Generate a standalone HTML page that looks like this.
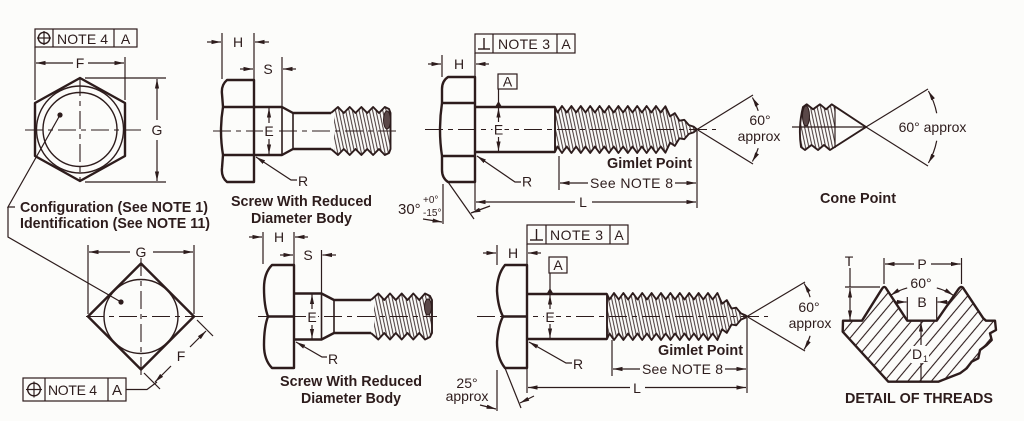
<!DOCTYPE html>
<html><head><meta charset="utf-8"><style>
html,body{margin:0;padding:0;background:#fcfcfa;}
svg{display:block}
text{font-family:"Liberation Sans",Arial,sans-serif;fill:#2d1c1c;font-size:14px}
.b{font-weight:bold;font-size:15px}
.m{text-anchor:middle}
.th{fill:none;stroke:#2d1c1c;stroke-width:1.2}
.tk{fill:none;stroke:#2d1c1c;stroke-width:2.4;stroke-linejoin:round}
.tr{fill:none;stroke:#2d1c1c;stroke-width:1.9;stroke-linejoin:round}
.md{fill:none;stroke:#2d1c1c;stroke-width:1.6}
.cl{fill:none;stroke:#2d1c1c;stroke-width:1.1;stroke-dasharray:18 5 5 5}
.ar{fill:none;stroke:#2d1c1c;stroke-width:1.2;marker-end:url(#a)}
.hs{fill:url(#hs);stroke:none}
.hd{fill:url(#hd);stroke:none}
.bg{fill:#fcfcfa;stroke:none}
</style></head><body>
<svg width="1024" height="421" viewBox="0 0 1024 421" xmlns="http://www.w3.org/2000/svg" fill="#2d1c1c">
<defs>
<marker id="a" viewBox="0 0 10 4.4" refX="10" refY="2.2" markerWidth="9.5" markerHeight="4.6" markerUnits="userSpaceOnUse" orient="auto"><path d="M0,0L10,2.2L0,4.4z" fill="#2d1c1c"/></marker>
<pattern id="hs" width="3.3" height="20" patternUnits="userSpaceOnUse" patternTransform="rotate(-12)"><line x1="1.6" y1="0" x2="1.6" y2="20" stroke="#2d1c1c" stroke-width="0.9"/></pattern>
<pattern id="hd" width="9" height="20" patternUnits="userSpaceOnUse" patternTransform="rotate(40)"><line x1="4.5" y1="0" x2="4.5" y2="20" stroke="#2d1c1c" stroke-width="1.1"/></pattern>
</defs>

<!-- TOP-LEFT HEX -->
<rect x="35" y="29" width="102" height="18" class="th"/>
<line x1="53" y1="29" x2="53" y2="47" class="th"/>
<line x1="114" y1="29" x2="114" y2="47" class="th"/>
<circle cx="44" cy="38" r="5.7" class="th" style="stroke-width:1.4"/>
<line x1="44" y1="31" x2="44" y2="45" class="th"/>
<line x1="37" y1="38" x2="51" y2="38" class="th"/>
<text x="57" y="44" textLength="51">NOTE 4</text>
<text x="125.5" y="44" class="m">A</text>
<line x1="35" y1="47" x2="35" y2="100" class="th"/>
<line x1="125" y1="57" x2="125" y2="100" class="th"/>
<line x1="73" y1="63" x2="36" y2="63" class="ar"/>
<line x1="88" y1="63" x2="124" y2="63" class="ar"/>
<text x="80" y="68" class="m">F</text>
<polygon points="80,78 125,103 125,156 80,181 35,156 35,103" class="tk"/>
<circle cx="80" cy="129.5" r="43.5" class="th" style="stroke-width:1.4"/>
<circle cx="80" cy="129.5" r="37" class="th" style="stroke-width:1.4"/>
<line x1="25" y1="130" x2="141" y2="130" class="cl"/>
<line x1="80" y1="78" x2="80" y2="182" class="cl"/>
<circle cx="60" cy="115" r="2.6"/>
<line x1="85" y1="78" x2="166" y2="78" class="th"/>
<line x1="85" y1="182" x2="166" y2="182" class="th"/>
<line x1="157" y1="120" x2="157" y2="79" class="ar"/>
<line x1="157" y1="140" x2="157" y2="181" class="ar"/>
<text x="157" y="135" class="m">G</text>
<polyline points="60,115 8,207 15,207" class="th"/>
<polyline points="8,207 8,237 121,302" class="th"/>
<text x="20" y="212" class="b" textLength="188" lengthAdjust="spacingAndGlyphs">Configuration (See NOTE 1)</text>
<text x="20" y="228" class="b" textLength="190" lengthAdjust="spacingAndGlyphs">Identification (See NOTE 11)</text>

<!-- TOP REDUCED SCREW -->
<line x1="222" y1="33" x2="222" y2="79" class="th"/>
<line x1="254" y1="33" x2="254" y2="80" class="th"/>
<line x1="207" y1="42" x2="221" y2="42" class="ar"/>
<line x1="269" y1="42" x2="255" y2="42" class="ar"/>
<text x="238" y="47" class="m">H</text>
<line x1="240" y1="69" x2="253" y2="69" class="ar"/>
<line x1="296" y1="69" x2="283" y2="69" class="ar"/>
<line x1="282" y1="57" x2="282" y2="107" class="th"/>
<text x="268" y="74" class="m">S</text>
<path d="M227,80 L254,80 L254,182 L227,182 Q221,177 222,168 L223,155 Q219,131 223,107 L222,94 Q221,85 227,80 Z" class="tk"/>
<line x1="223" y1="107" x2="254" y2="107" class="tk"/>
<line x1="223" y1="155" x2="254" y2="155" class="tk"/>
<polyline points="254,107 282,107 293,113 331,113" class="tk"/>
<polyline points="254,155 282,155 293,149 331,149" class="tk"/>
<line x1="282" y1="107" x2="282" y2="155" class="md"/>
<line x1="293" y1="113" x2="293" y2="149" class="md"/>
<path class="hs" d="M334,112 L338,107 343.8,113 349.7,107 355.5,113 361.4,107 367.2,113 373.1,107 379,113 384.8,107 389,109 390.5,113 L390.5,149 389,153 384.8,155 379,149 373.1,155 367.2,149 361.4,155 355.5,149 349.7,155 343.8,149 338,155 334,150 Z"/>
<path d="M331,113 L338,107 343.8,113 349.7,107 355.5,113 361.4,107 367.2,113 373.1,107 379,113 384.8,107 389,109 390.5,113 L390.5,149 389,153 384.8,155 379,149 373.1,155 367.2,149 361.4,155 355.5,149 349.7,155 343.8,149 338,155 331,149" class="tr"/>
<ellipse cx="387" cy="120" rx="3.5" ry="9" fill="#5a4848" stroke="#2d1c1c"/>
<line x1="213" y1="131" x2="396" y2="131" class="cl"/>
<rect x="263" y="125" width="12" height="13" class="bg"/>
<line x1="269" y1="123" x2="269" y2="108" class="ar"/>
<line x1="269" y1="139" x2="269" y2="154" class="ar"/>
<text x="269" y="136" class="m">E</text>
<polyline points="297,180 291,180 256,157" class="ar"/>
<text x="298" y="186">R</text>
<text x="231" y="206" class="b" textLength="141" lengthAdjust="spacingAndGlyphs">Screw With Reduced</text>
<text x="251" y="223" class="b" textLength="101" lengthAdjust="spacingAndGlyphs">Diameter Body</text>

<!-- TOP GIMLET -->
<rect x="475" y="34" width="100" height="19" class="th"/>
<line x1="493" y1="34" x2="493" y2="53" class="th"/>
<line x1="557" y1="34" x2="557" y2="53" class="th"/>
<line x1="484" y1="38" x2="484" y2="49" class="th" style="stroke-width:1.4"/>
<line x1="478" y1="49" x2="490" y2="49" class="th" style="stroke-width:1.4"/>
<text x="498" y="49" textLength="52">NOTE 3</text>
<text x="566" y="49" class="m">A</text>
<line x1="475" y1="53" x2="475" y2="77" class="th"/>
<line x1="442" y1="55" x2="442" y2="77" class="th"/>
<line x1="428" y1="64" x2="441" y2="64" class="ar"/>
<line x1="489" y1="64" x2="476" y2="64" class="ar"/>
<text x="459" y="69" class="m">H</text>
<path d="M448,77 L475,77 L475,182 L448,182 Q442,178 442,170 L442,156 Q438,130 442,103 L442,89 Q442,81 448,77 Z" class="tk"/>
<line x1="442" y1="103" x2="475" y2="103" class="tk"/>
<line x1="442" y1="156" x2="475" y2="156" class="tk"/>
<line x1="475" y1="107" x2="555" y2="107" class="tk"/>
<line x1="475" y1="152" x2="555" y2="152" class="tk"/>
<path class="hs" d="M555,107 L557.5,112.5 562,106 566.7,112.5 571.4,106 576.1,112.5 580.8,106 585.5,112.5 590.2,106 594.9,112.5 599.6,106 604.3,112.5 609,106 613.7,112.5 618.4,106 623.1,112.5 627.8,106 632.5,112.5 637.2,106 641.9,112.5 646.6,106 651.3,112.5 656,106 660.7,112.5 665.4,106.3 670.1,116.3 674.8,113.1 679.5,120.7 684.2,119.8 688.9,125.1 693.6,126.6 697,129.5 693.6,132.4 688.9,133.9 684.2,139.2 679.5,138.3 674.8,145.9 670.1,142.7 665.4,152.7 660.7,146.5 656,153 651.3,146.5 646.6,153 641.9,146.5 637.2,153 632.5,146.5 627.8,153 623.1,146.5 618.4,153 613.7,146.5 609,153 604.3,146.5 599.6,153 594.9,146.5 590.2,153 585.5,146.5 580.8,153 576.1,146.5 571.4,153 566.7,146.5 562,153 557.5,146.5 555,152 Z"/>
<path class="tr" d="M555,107 L557.5,112.5 562,106 566.7,112.5 571.4,106 576.1,112.5 580.8,106 585.5,112.5 590.2,106 594.9,112.5 599.6,106 604.3,112.5 609,106 613.7,112.5 618.4,106 623.1,112.5 627.8,106 632.5,112.5 637.2,106 641.9,112.5 646.6,106 651.3,112.5 656,106 660.7,112.5 665.4,106.3 670.1,116.3 674.8,113.1 679.5,120.7 684.2,119.8 688.9,125.1 693.6,126.6 697,129.5 693.6,132.4 688.9,133.9 684.2,139.2 679.5,138.3 674.8,145.9 670.1,142.7 665.4,152.7 660.7,146.5 656,153 651.3,146.5 646.6,153 641.9,146.5 637.2,153 632.5,146.5 627.8,153 623.1,146.5 618.4,153 613.7,146.5 609,153 604.3,146.5 599.6,153 594.9,146.5 590.2,153 585.5,146.5 580.8,153 576.1,146.5 571.4,153 566.7,146.5 562,153 557.5,146.5 555,152 Z"/>
<rect x="498" y="74" width="19" height="15" class="th"/>
<text x="507.5" y="86.5" class="m">A</text>
<line x1="498.5" y1="89" x2="498.5" y2="103" class="th"/>
<polygon points="495,107 502,107 498.5,101"/>
<line x1="425" y1="129.5" x2="716" y2="129.5" class="cl"/>
<rect x="492.5" y="123.5" width="12" height="13" class="bg"/>
<line x1="498.5" y1="122" x2="498.5" y2="108" class="ar"/>
<line x1="498.5" y1="137" x2="498.5" y2="151" class="ar"/>
<text x="498.5" y="134.5" class="m">E</text>
<polyline points="521,182 515,182 477,156" class="ar"/>
<text x="522" y="186.5">R</text>
<text x="607" y="168" class="b" textLength="85" lengthAdjust="spacingAndGlyphs">Gimlet Point</text>
<line x1="588" y1="183" x2="560" y2="183" class="ar"/>
<line x1="675" y1="183" x2="696" y2="183" class="ar"/>
<text x="590" y="188" textLength="83">See NOTE 8</text>
<line x1="559" y1="156" x2="559" y2="190" class="th"/>
<line x1="697" y1="131" x2="697" y2="208" class="th"/>
<line x1="575" y1="202" x2="476" y2="202" class="ar"/>
<line x1="592" y1="202" x2="696" y2="202" class="ar"/>
<text x="583" y="207" class="m">L</text>
<line x1="475" y1="183" x2="475" y2="210" class="th"/>
<line x1="443" y1="184" x2="443" y2="224" class="th"/>
<line x1="448" y1="182" x2="474" y2="219" class="th"/>
<line x1="490" y1="206" x2="471" y2="213" class="ar"/>
<line x1="423" y1="219" x2="442" y2="222" class="ar"/>
<text x="398" y="214" style="font-size:15px">30°</text>
<text x="423" y="203" style="font-size:10px">+0°</text>
<text x="423" y="216" style="font-size:10px">-15°</text>
<line x1="697" y1="129.5" x2="753" y2="95" class="th"/>
<line x1="697" y1="129.5" x2="753" y2="164" class="th"/>
<path d="M758.2,110.8 A64,64 0 0 0 752.4,97.5" class="ar"/>
<path d="M758.2,148.2 A64,64 0 0 1 752.4,161.5" class="ar"/>
<text x="760" y="125" class="m">60°</text>
<text x="759" y="141" class="m">approx</text>

<!-- CONE POINT -->
<path class="hs" d="M803,107 L806.7,104.3 L813,109.3 L820,104.3 L826,109.3 L831.7,104.3 L835,106.5 L835,148 L830,150 L824,145 L818,150 L811.5,145 L805,150 L801,147 Q798,127 803,107 Z"/>
<path d="M803,107 L806.7,104.3 L813,109.3 L820,104.3 L826,109.3 L831.7,104.3 L866,127 L830,150 L824,145 L818,150 L811.5,145 L805,150 L801,147 Q798,127 803,107 Z" class="tr"/>
<line x1="835" y1="107" x2="835" y2="148" class="th"/>
<ellipse cx="806" cy="116" rx="3.5" ry="10" fill="#5a4848" stroke="#2d1c1c"/>
<line x1="792" y1="127" x2="866" y2="127" class="th"/>
<line x1="866" y1="127" x2="928" y2="89" class="th"/>
<line x1="866" y1="127" x2="928" y2="166" class="th"/>
<path d="M936.7,113.3 A72,72 0 0 0 928.4,91" class="ar"/>
<path d="M936.7,140.7 A72,72 0 0 1 928.4,163" class="ar"/>
<text x="932.5" y="132" class="m">60° approx</text>
<text x="858" y="203" class="b m" textLength="76" lengthAdjust="spacingAndGlyphs">Cone Point</text>

<!-- BOTTOM-LEFT SQUARE -->
<polygon points="141,263.5 194,316.5 141,369.5 88,316.5" class="tk"/>
<circle cx="141" cy="316.5" r="37" class="th" style="stroke-width:1.4"/>
<line x1="86" y1="316.5" x2="206" y2="316.5" class="cl"/>
<line x1="141" y1="258" x2="141" y2="376" class="cl"/>
<circle cx="121" cy="302" r="2.6"/>
<line x1="88" y1="245" x2="88" y2="314" class="th"/>
<line x1="194" y1="245" x2="194" y2="314" class="th"/>
<line x1="130" y1="252" x2="89" y2="252" class="ar"/>
<line x1="153" y1="252" x2="193" y2="252" class="ar"/>
<text x="141" y="257" class="m">G</text>
<line x1="197" y1="320" x2="213" y2="336" class="th"/>
<line x1="144" y1="373" x2="160" y2="389" class="th"/>
<line x1="190" y1="347" x2="206" y2="331" class="ar"/>
<line x1="171" y1="366" x2="155" y2="382" class="ar"/>
<text x="181" y="361" class="m">F</text>
<rect x="23" y="378" width="103" height="23" class="th"/>
<line x1="45" y1="378" x2="45" y2="401" class="th"/>
<line x1="108" y1="378" x2="108" y2="401" class="th"/>
<circle cx="34" cy="389.5" r="6.3" class="th" style="stroke-width:1.4"/>
<line x1="34" y1="381.5" x2="34" y2="397.5" class="th"/>
<line x1="26" y1="389.5" x2="42" y2="389.5" class="th"/>
<text x="48" y="395" textLength="49">NOTE 4</text>
<text x="117" y="395" class="m" style="font-size:15px">A</text>
<polyline points="126,389.5 147,389.5 157,382" class="th"/>

<!-- BOTTOM REDUCED SCREW -->
<line x1="263" y1="232" x2="263" y2="264" class="th"/>
<line x1="294" y1="232" x2="294" y2="265" class="th"/>
<line x1="249" y1="237" x2="262" y2="237" class="ar"/>
<line x1="308" y1="237" x2="295" y2="237" class="ar"/>
<text x="279" y="242" class="m">H</text>
<line x1="280" y1="255" x2="293" y2="255" class="ar"/>
<line x1="336" y1="255" x2="322.5" y2="255" class="ar"/>
<line x1="321.5" y1="250" x2="321.5" y2="293" class="th"/>
<text x="308" y="260" class="m">S</text>
<path d="M272,265 L294,265 L294,368 L272,368 Q264,360 264,345 Q264,327 268,316.5 Q264,306 264,288 Q264,273 272,265 Z" class="tk"/>
<line x1="268" y1="316.5" x2="294" y2="316.5" class="tk"/>
<polyline points="294,293.5 321.5,293.5 334,300 371,300" class="tk"/>
<polyline points="294,339.5 321.5,339.5 334,333 371,333" class="tk"/>
<line x1="321.5" y1="293.5" x2="321.5" y2="339.5" class="md"/>
<line x1="334" y1="300" x2="334" y2="333" class="md"/>
<path class="hs" d="M374,297 L378.3,293.5 384.2,300 390,293.5 395.8,300 401.7,293.5 407.5,300 413.3,293.5 419.2,300 425,293.5 430,296 432,300 L432,333 430,337 425,339.5 419.2,333 413.3,339.5 407.5,333 401.7,339.5 395.8,333 390,339.5 384.2,333 378.3,339.5 374,336 Z"/>
<path d="M371,300 L378.3,293.5 384.2,300 390,293.5 395.8,300 401.7,293.5 407.5,300 413.3,293.5 419.2,300 425,293.5 430,296 432,300 L432,333 430,337 425,339.5 419.2,333 413.3,339.5 407.5,333 401.7,339.5 395.8,333 390,339.5 384.2,333 378.3,339.5 371,333" class="tr"/>
<ellipse cx="428" cy="307" rx="3.5" ry="8" fill="#5a4848" stroke="#2d1c1c"/>
<line x1="258" y1="316.5" x2="437" y2="316.5" class="cl"/>
<rect x="306" y="311" width="12" height="13" class="bg"/>
<line x1="312" y1="309" x2="312" y2="294.5" class="ar"/>
<line x1="312" y1="325" x2="312" y2="338.5" class="ar"/>
<text x="312" y="322" class="m">E</text>
<polyline points="327,357 322,357 296,342" class="ar"/>
<text x="328" y="364">R</text>
<text x="280" y="386" class="b" textLength="142" lengthAdjust="spacingAndGlyphs">Screw With Reduced</text>
<text x="301" y="403" class="b" textLength="100" lengthAdjust="spacingAndGlyphs">Diameter Body</text>

<!-- BOTTOM GIMLET -->
<rect x="527" y="225" width="101" height="19" class="th"/>
<line x1="546" y1="225" x2="546" y2="244" class="th"/>
<line x1="610" y1="225" x2="610" y2="244" class="th"/>
<line x1="536.5" y1="229" x2="536.5" y2="240" class="th" style="stroke-width:1.4"/>
<line x1="530" y1="240" x2="543" y2="240" class="th" style="stroke-width:1.4"/>
<text x="550" y="240" textLength="53">NOTE 3</text>
<text x="619" y="240" class="m">A</text>
<line x1="527" y1="244" x2="527" y2="265" class="th"/>
<line x1="497" y1="245" x2="497" y2="265" class="th"/>
<line x1="483" y1="253" x2="496" y2="253" class="ar"/>
<line x1="541" y1="253" x2="528" y2="253" class="ar"/>
<text x="513" y="258" class="m">H</text>
<path d="M505,265 L527,265 L527,368 L505,368 Q497,358 497,342 Q498,326 503,316.5 Q498,307 497,291 Q497,275 505,265 Z" class="tk"/>
<line x1="503" y1="316.5" x2="527" y2="316.5" class="tk"/>
<line x1="527" y1="294" x2="607" y2="294" class="tk"/>
<line x1="527" y1="339" x2="607" y2="339" class="tk"/>
<path class="hs" d="M607,294 L609.5,299.5 614,293 618.7,299.5 623.4,293 628.1,299.5 632.8,293 637.5,299.5 642.2,293 646.9,299.5 651.6,293 656.3,299.5 661,293 665.7,299.5 670.4,293 675.1,299.5 679.8,293 684.5,299.5 689.2,293 693.9,299.5 698.6,293 703.3,299.5 708,293 712.7,299.5 717.4,293 722.1,303.7 726.8,300.1 731.5,308.5 736.2,307.7 740.9,313.4 745.6,315.4 747,316.5 745.6,317.6 740.9,319.6 736.2,325.3 731.5,324.5 726.8,332.9 722.1,329.3 717.4,340 712.7,333.5 708,340 703.3,333.5 698.6,340 693.9,333.5 689.2,340 684.5,333.5 679.8,340 675.1,333.5 670.4,340 665.7,333.5 661,340 656.3,333.5 651.6,340 646.9,333.5 642.2,340 637.5,333.5 632.8,340 628.1,333.5 623.4,340 618.7,333.5 614,340 609.5,333.5 607,339 Z"/>
<path class="tr" d="M607,294 L609.5,299.5 614,293 618.7,299.5 623.4,293 628.1,299.5 632.8,293 637.5,299.5 642.2,293 646.9,299.5 651.6,293 656.3,299.5 661,293 665.7,299.5 670.4,293 675.1,299.5 679.8,293 684.5,299.5 689.2,293 693.9,299.5 698.6,293 703.3,299.5 708,293 712.7,299.5 717.4,293 722.1,303.7 726.8,300.1 731.5,308.5 736.2,307.7 740.9,313.4 745.6,315.4 747,316.5 745.6,317.6 740.9,319.6 736.2,325.3 731.5,324.5 726.8,332.9 722.1,329.3 717.4,340 712.7,333.5 708,340 703.3,333.5 698.6,340 693.9,333.5 689.2,340 684.5,333.5 679.8,340 675.1,333.5 670.4,340 665.7,333.5 661,340 656.3,333.5 651.6,340 646.9,333.5 642.2,340 637.5,333.5 632.8,340 628.1,333.5 623.4,340 618.7,333.5 614,340 609.5,333.5 607,339 Z"/>
<rect x="549" y="257" width="18" height="16" class="th"/>
<text x="558" y="270" class="m">A</text>
<line x1="550" y1="273" x2="550" y2="289" class="th"/>
<polygon points="546.5,294 553.5,294 550,288"/>
<line x1="477" y1="316.5" x2="768" y2="316.5" class="cl"/>
<rect x="544" y="311" width="12" height="13" class="bg"/>
<line x1="550" y1="309" x2="550" y2="295" class="ar"/>
<line x1="550" y1="324" x2="550" y2="338" class="ar"/>
<text x="550" y="322" class="m">E</text>
<polyline points="572,363 566,363 529,342" class="ar"/>
<text x="573" y="369">R</text>
<text x="658" y="355" class="b" textLength="85" lengthAdjust="spacingAndGlyphs">Gimlet Point</text>
<line x1="640" y1="369" x2="613" y2="369" class="ar"/>
<line x1="725" y1="369" x2="746" y2="369" class="ar"/>
<text x="642" y="374" textLength="81">See NOTE 8</text>
<line x1="612" y1="340" x2="612" y2="376" class="th"/>
<line x1="747" y1="318" x2="747" y2="393" class="th"/>
<line x1="630" y1="387.5" x2="528" y2="387.5" class="ar"/>
<line x1="645" y1="387.5" x2="746" y2="387.5" class="ar"/>
<text x="637" y="393" class="m">L</text>
<line x1="527" y1="369" x2="527" y2="393" class="th"/>
<line x1="497" y1="370" x2="497" y2="411" class="th"/>
<line x1="505" y1="368" x2="521" y2="408" class="th"/>
<line x1="534" y1="396" x2="520" y2="403" class="ar"/>
<line x1="480" y1="405" x2="496" y2="409" class="ar"/>
<text x="467" y="388" class="m">25°</text>
<text x="467" y="401" class="m">approx</text>
<line x1="747" y1="316.5" x2="805" y2="282" class="th"/>
<line x1="747" y1="316.5" x2="805" y2="351" class="th"/>
<path d="M810.1,297.2 A66,66 0 0 0 804.2,283.5" class="ar"/>
<path d="M810.1,335.8 A66,66 0 0 1 804.2,349.5" class="ar"/>
<text x="809" y="312" class="m">60°</text>
<text x="810" y="328" class="m">approx</text>

<!-- DETAIL OF THREADS -->
<path class="hd" d="M843,320.7 L862,320.7 L881.7,289.3 Q884.3,284.5 886.7,289.3 L907.3,320.7 L936.7,320.7 L958.3,289.3 Q961.7,284.5 964,289.3 L983.3,318.3 L986,320.7 L995,320.7 L996,330 L990,333.3 L991.7,340 L986.7,345 L980,350 L978.3,358.3 L971.7,361.7 L966.7,368.3 L960,373.3 L938.3,381.7 L888.3,381.7 L842.7,331.7 Z"/>
<path class="tk" d="M843,320.7 L862,320.7 L881.7,289.3 Q884.3,284.5 886.7,289.3 L907.3,320.7 L936.7,320.7 L958.3,289.3 Q961.7,284.5 964,289.3 L983.3,318.3 L986,320.7 L995,320.7 L996,330 L990,333.3 L991.7,340 L986.7,345 L980,350 L978.3,358.3 L971.7,361.7 L966.7,368.3 L960,373.3 L938.3,381.7 L888.3,381.7 L842.7,331.7 Z"/>
<rect x="911" y="346" width="18" height="17" class="bg"/>
<line x1="845" y1="287" x2="880" y2="287" class="th"/>
<line x1="850" y1="268" x2="850" y2="287" class="th"/>
<line x1="850" y1="304" x2="850" y2="288" class="ar"/>
<line x1="850" y1="304" x2="850" y2="320" class="ar"/>
<text x="849" y="266" class="m">T</text>
<line x1="884" y1="258" x2="884" y2="284" class="th"/>
<line x1="961.5" y1="258" x2="961.5" y2="284" class="th"/>
<line x1="914" y1="264" x2="885" y2="264" class="ar"/>
<line x1="931" y1="264" x2="960.5" y2="264" class="ar"/>
<text x="922" y="269" class="m">P</text>
<path d="M907.2,287.9 A57,57 0 0 0 890.7,295.3" class="ar"/>
<path d="M936.8,287.9 A57,57 0 0 1 953.3,295.3" class="ar"/>
<text x="921" y="288" class="m">60°</text>
<line x1="907.3" y1="297" x2="907.3" y2="320" class="th"/>
<line x1="936.7" y1="297" x2="936.7" y2="320" class="th"/>
<line x1="894" y1="302" x2="906.5" y2="302" class="ar"/>
<line x1="950" y1="302" x2="937.5" y2="302" class="ar"/>
<text x="922" y="307" class="m">B</text>
<line x1="921" y1="345" x2="921" y2="322" class="ar"/>
<line x1="921" y1="363" x2="921" y2="381" class="th"/>
<text x="917" y="359" class="m">D</text>
<text x="923" y="362" style="font-size:9px">1</text>
<text x="845" y="403" class="b" textLength="148" lengthAdjust="spacingAndGlyphs">DETAIL OF THREADS</text>
</svg>
</body></html>
